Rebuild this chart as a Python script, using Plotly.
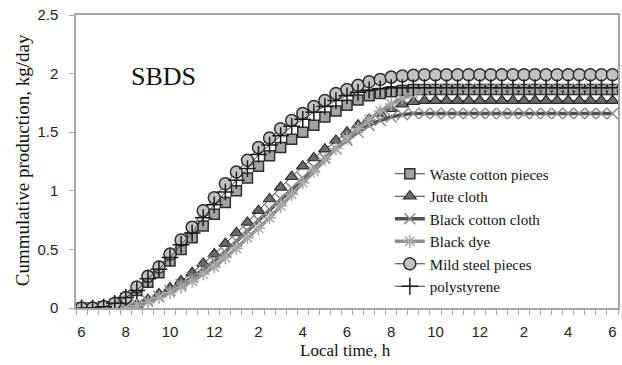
import plotly.graph_objects as go

hours = [6 + 0.5 * i for i in range(49)]
tick_vals = [6, 8, 10, 12, 14, 16, 18, 20, 22, 24, 26, 28, 30]
tick_text = ["6", "8", "10", "12", "2", "4", "6", "8", "10", "12", "2", "4", "6"]

waste_cotton = [0, 0, 0.01, 0.03, 0.08, 0.15, 0.22, 0.30, 0.40, 0.50, 0.60, 0.70, 0.80,
                0.90, 1.00, 1.11, 1.21, 1.30, 1.37, 1.44, 1.50, 1.56, 1.63, 1.68, 1.73,
                1.775, 1.81, 1.83, 1.845, 1.855, 1.865] + [1.865] * 18
jute_cloth = [0, 0, 0, 0, 0.01, 0.03, 0.07, 0.12, 0.17, 0.23, 0.30, 0.38, 0.46, 0.55,
              0.64, 0.73, 0.83, 0.93, 1.03, 1.12, 1.21, 1.28, 1.355, 1.43, 1.50, 1.56,
              1.61, 1.66, 1.70, 1.74, 1.76, 1.77] + [1.77] * 17
black_cotton = [0, 0, 0, 0, 0, 0.03, 0.06, 0.10, 0.15, 0.20, 0.26, 0.33, 0.40, 0.48,
                0.57, 0.66, 0.75, 0.84, 0.93, 1.02, 1.11, 1.20, 1.28, 1.36, 1.43, 1.50,
                1.56, 1.60, 1.63, 1.65, 1.66] + [1.66] * 18
black_dye = [0, 0, 0, 0, 0, 0.02, 0.05, 0.09, 0.13, 0.18, 0.23, 0.29, 0.35, 0.43,
             0.51, 0.60, 0.68, 0.77, 0.87, 0.97, 1.07, 1.17, 1.27, 1.36, 1.45, 1.53,
             1.61, 1.68, 1.74, 1.79, 1.83, 1.86, 1.87] + [1.87] * 16
mild_steel = [0, 0, 0.01, 0.04, 0.09, 0.18, 0.27, 0.35, 0.46, 0.58, 0.69, 0.83, 0.94,
              1.06, 1.16, 1.26, 1.37, 1.45, 1.53, 1.60, 1.66, 1.72, 1.77, 1.83, 1.865,
              1.90, 1.93, 1.95, 1.97, 1.98, 1.985] + [1.99] * 18
polystyrene = [0, 0, 0.01, 0.04, 0.09, 0.15, 0.25, 0.33, 0.43, 0.54, 0.64, 0.77, 0.88,
               0.99, 1.09, 1.19, 1.31, 1.39, 1.47, 1.55, 1.61, 1.67, 1.72, 1.77, 1.81,
               1.84, 1.86, 1.87, 1.88] + [1.88] * 20

series = [
    ("Waste cotton pieces", waste_cotton, dict(color="#3a3a3a", width=1),
     dict(symbol="square", size=10, color="#a3a3a3", line=dict(color="#2e2e2e", width=1.5))),
    ("Jute cloth", jute_cloth, dict(color="#3a3a3a", width=1),
     dict(symbol="triangle-up", size=11, color="#6a6a6a", line=dict(color="#2e2e2e", width=1.2))),
    ("Black cotton cloth", black_cotton, dict(color="#505050", width=3.5),
     dict(symbol="x-thin-open", size=11, color="#8a8a8a", line=dict(color="#8a8a8a", width=1.5))),
    ("Black dye", black_dye, dict(color="#8c8c8c", width=3.5),
     dict(symbol="asterisk-open", size=11, color="#a8a8a8", line=dict(color="#a8a8a8", width=1.5))),
    ("Mild steel pieces", mild_steel, dict(color="#3a3a3a", width=1),
     dict(symbol="circle", size=12, color="#c2c2c2", line=dict(color="#2e2e2e", width=1.5))),
    ("polystyrene", polystyrene, dict(color="#3a3a3a", width=1),
     dict(symbol="cross-thin-open", size=12, color="#1a1a1a", line=dict(color="#1a1a1a", width=1.5))),
]

fig = go.Figure()
for name, vals, line, marker in series:
    fig.add_trace(go.Scatter(x=hours, y=vals, name=name, mode="lines+markers",
                             line=line, marker=marker))

W, H = 622, 365
ML, MR, MT, MB = 76, 2, 15, 57
plot_w = W - ML - MR
plot_h = H - MT - MB


def px_x(x):
    return (x - ML) / plot_w


def px_y(y):
    return (H - MB - y) / plot_h


axis_color = "#a6a6a6"
fig.update_layout(
    width=W, height=H,
    margin=dict(l=ML, r=MR, t=MT, b=MB),
    paper_bgcolor="white", plot_bgcolor="white",
    showlegend=True,
    legend=dict(x=px_x(391), y=px_y(157.5), xanchor="left", yanchor="top",
                font=dict(family="Liberation Serif", size=15, color="#111"),
                bgcolor="rgba(0,0,0,0)", tracegroupgap=0, itemwidth=30),
    xaxis=dict(range=[5.75, 30.25], tickvals=tick_vals, ticktext=tick_text,
               showgrid=False, zeroline=False, showline=True, linecolor=axis_color,
               linewidth=1.5, mirror=True, ticks="outside", ticklen=9, tickcolor="rgba(0,0,0,0)",
               tickfont=dict(family="Liberation Sans", size=15, color="#222"),
               minor=dict(tick0=5.75, dtick=0.5, ticks="outside", ticklen=5,
                          tickcolor=axis_color, showgrid=False)),
    yaxis=dict(range=[0, 2.5], dtick=0.5, showgrid=False, zeroline=False,
               showline=True, linecolor=axis_color, linewidth=1.5, mirror=True,
               ticks="outside", ticklen=5, tickcolor=axis_color, ticklabelstandoff=8,
               tickfont=dict(family="Liberation Sans", size=15, color="#222")),
    annotations=[
        dict(text="SBDS", x=px_x(129), y=px_y(76), xref="paper", yref="paper",
             showarrow=False, xanchor="left", yanchor="middle",
             font=dict(family="Liberation Serif", size=26, color="#111")),
        dict(text="Cummulative production, kg/day", x=px_x(22), y=px_y(160),
             xref="paper", yref="paper", showarrow=False, textangle=-90,
             xanchor="center", yanchor="middle",
             font=dict(family="Liberation Serif", size=19, color="#111")),
        dict(text="Local time, h", x=px_x(346), y=px_y(350), xref="paper", yref="paper",
             showarrow=False, xanchor="center", yanchor="middle",
             font=dict(family="Liberation Serif", size=17, color="#111")),
    ],
)

fig.write_html("out.html")
